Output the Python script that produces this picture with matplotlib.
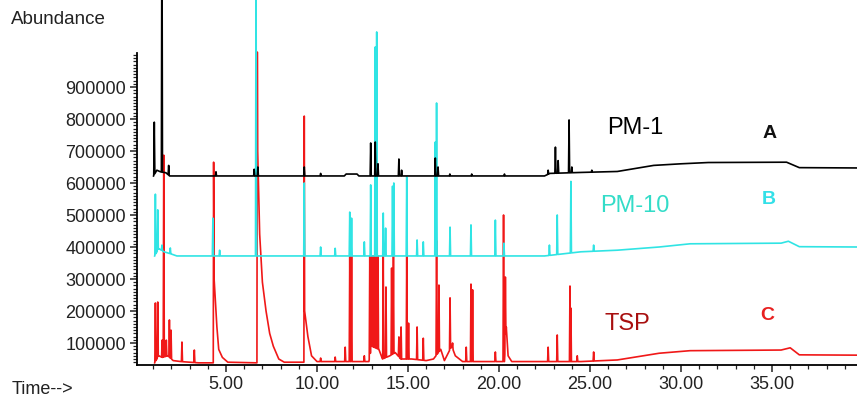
import numpy as np
import matplotlib
matplotlib.use("Agg")
import matplotlib.pyplot as plt
from matplotlib.ticker import MultipleLocator, FixedLocator, FormatStrFormatter

plt.rcParams['font.family'] = ['Liberation Sans', 'DejaVu Sans']

# retention times (min) and abundances
# PM-1 (black)
pm1_base_t = [1.02, 1.2, 1.4, 1.7, 1.9, 11.5, 11.6, 12.2, 12.3, 22.5, 22.8, 24.5, 26.5, 28.5, 30.0, 31.5, 35.8, 36.5, 39.7]
pm1_base_v = [622000, 640000, 635000, 632000, 622000, 622000, 628000, 628000, 622000, 622000, 630000, 633000, 636000, 655000, 660000, 664000, 665000, 648000, 647000]
pm1_peak_t = [1.06, 1.48, 1.85, 4.45, 6.55, 6.75, 9.3, 10.2, 12.95, 13.2, 13.35, 14.5, 14.65, 16.5, 16.65, 17.3, 18.5, 20.3, 22.7, 23.1, 23.25, 23.85, 24.0, 25.1]
pm1_peak_v = [790000, 1500000, 655000, 635000, 643000, 650000, 650000, 630000, 725000, 728000, 660000, 675000, 640000, 678000, 650000, 628000, 628000, 628000, 640000, 712000, 670000, 797000, 650000, 640000]

# PM-10 (cyan)
pm10_base_t = [1.08, 1.3, 1.6, 2.0, 2.3, 22.5, 24.5, 26.5, 28.8, 30.5, 35.5, 35.9, 36.5, 39.7]
pm10_base_v = [372000, 395000, 385000, 378000, 372000, 372000, 385000, 390000, 400000, 410000, 412000, 418000, 401000, 400000]
pm10_peak_t = [1.12, 1.25, 1.48, 1.94, 4.28, 4.65, 6.65, 9.3, 10.2, 11.0, 11.8, 11.9, 12.6, 12.95, 13.2, 13.28,
               13.64, 13.77, 14.15, 14.22, 14.93, 15.5, 15.84, 16.5, 16.57, 17.31, 18.46, 19.8, 20.27, 22.77, 23.2, 23.95, 25.2]
pm10_peak_v = [565000, 516000, 406000, 397000, 490000, 390000, 1300000, 600000, 400000, 396000, 509000, 490000, 416000, 594000, 1025000, 1072000,
               506000, 459000, 590000, 600000, 619000, 422000, 416000, 728000, 850000, 462000, 469000, 484000, 412000, 406000, 500000, 605000, 406000]

# TSP (red) - baseline incl. tails of the big tailing peaks
tsp_base_t = [1.08, 1.3, 1.5, 1.8, 2.1, 2.5, 3.0, 3.5, 4.3, 4.35, 4.5, 4.6, 4.8, 5.1, 6.7, 6.74, 6.85, 7.0, 7.2, 7.4, 7.6, 7.9, 8.2,
              9.28, 9.32, 9.5, 9.7, 10.0, 12.85, 13.0, 13.4, 13.6, 14.0, 14.3, 14.6, 15.2, 16.0, 16.4, 16.8, 17.0, 17.4, 17.6, 18.0,
              20.3, 20.4, 20.5, 20.7, 24.5, 26.5, 28.8, 30.5, 35.5, 36.0, 36.5, 39.7]
tsp_base_v = [38000, 60000, 55000, 60000, 45000, 42000, 40000, 38000, 38000, 297000, 150000, 80000, 55000, 40000, 38000, 700000, 440000, 290000, 200000, 130000, 90000, 50000, 40000,
              40000, 200000, 120000, 60000, 42000, 42000, 90000, 80000, 50000, 60000, 70000, 50000, 50000, 45000, 50000, 80000, 45000, 90000, 60000, 42000,
              42000, 150000, 60000, 42000, 42000, 47000, 68000, 76000, 78000, 85000, 63000, 62000]
tsp_peak_t = [1.12, 1.25, 1.49, 1.58, 1.72, 1.89, 1.98, 2.58, 3.26, 4.32, 6.72, 9.3, 10.2, 11.0, 11.55, 11.8, 11.9, 12.6,
              12.9, 12.97, 13.05, 13.12, 13.2, 13.27, 13.35, 13.64, 13.79, 14.1, 14.2, 14.5, 14.62, 14.93, 15.03, 15.5, 15.84, 16.57, 16.7,
              17.31, 17.45, 18.2, 18.46, 18.55, 19.8, 20.25, 20.35, 22.7, 23.2, 23.9, 23.95, 24.3, 25.2]
tsp_peak_v = [225000, 228000, 109000, 687000, 109000, 172000, 140000, 103000, 78000, 665000, 1009000, 809000, 53000, 56000, 87000, 372000, 372000, 60000,
              372000, 372000, 372000, 372000, 372000, 372000, 372000, 372000, 275000, 334000, 372000, 119000, 150000, 372000, 162000, 150000, 115000, 420000, 281000,
              241000, 100000, 87000, 284000, 266000, 72000, 500000, 306000, 87000, 125000, 278000, 209000, 60000, 72000]

y_ticks = [100000, 200000, 300000, 400000, 500000, 600000, 700000, 800000, 900000]


def build_trace(base_t, base_v, peak_t, peak_v, hw=0.03):
    # baseline points plus a narrow spike for every peak
    t = list(base_t)
    v = list(base_v)
    for pt, pv in zip(peak_t, peak_v):
        for dt in (-hw, hw):
            t.append(pt + dt)
            v.append(np.interp(pt + dt, base_t, base_v))
        t.append(pt)
        v.append(pv)
    order = np.argsort(t, kind='stable')
    return np.array(t)[order], np.array(v)[order]


W, H = 857, 400
fig = plt.figure(figsize=(W / 100, H / 100), dpi=100)
ax = fig.add_axes([137 / W, 35 / H, 720 / W, 365 / H])

for bt, bv, pt, pv, col, z in [
    (tsp_base_t, tsp_base_v, tsp_peak_t, tsp_peak_v, '#f01818', 1),
    (pm10_base_t, pm10_base_v, pm10_peak_t, pm10_peak_v, '#30e4e4', 2),
    (pm1_base_t, pm1_base_v, pm1_peak_t, pm1_peak_v, '#000000', 3),
]:
    x, y = build_trace(bt, bv, pt, pv)
    ax.plot(x, y, color=col, lw=1.2, zorder=z)

ax.set_xlim(0.11, 39.67)
ax.set_ylim(31250, 1171875)

for s in ['top', 'right']:
    ax.spines[s].set_visible(False)
ax.spines['left'].set_bounds(31250, 1005000)
ax.spines['left'].set_linewidth(1.3)
ax.spines['bottom'].set_linewidth(1.3)

ax.xaxis.set_major_locator(MultipleLocator(5))
ax.xaxis.set_minor_locator(MultipleLocator(1))
ax.xaxis.set_major_formatter(FormatStrFormatter('%.2f'))
ax.yaxis.set_major_locator(FixedLocator(y_ticks))
ax.yaxis.set_minor_locator(FixedLocator(np.arange(40000, 1000001, 10000)))

ax.tick_params(axis='both', which='major', length=5, width=1.1, labelsize=13, colors='#222222')
ax.tick_params(axis='both', which='minor', length=3, width=0.9, colors='#222222')
ax.tick_params(axis='x', which='major', pad=3)
ax.tick_params(axis='y', which='major', pad=3)

fig.text(11 / W, 1 - 20 / H, 'Abundance', ha='left', va='center', fontsize=13.5, color='#222222')
fig.text(12 / W, 1 - 389 / H, 'Time-->', ha='left', va='center', fontsize=13, color='#222222')

fig.text(635 / W, 1 - 128 / H, 'PM-1', ha='center', va='center', fontsize=17, color='black')
fig.text(770 / W, 1 - 134 / H, 'A', ha='center', va='center', fontsize=14, fontweight='bold', color='#111111')
fig.text(635 / W, 1 - 206 / H, 'PM-10', ha='center', va='center', fontsize=17, color='#33dcc8')
fig.text(769 / W, 1 - 200 / H, 'B', ha='center', va='center', fontsize=14, fontweight='bold', color='#33e0e8')
fig.text(627 / W, 1 - 324 / H, 'TSP', ha='center', va='center', fontsize=17, color='#a80f0f')
fig.text(767 / W, 1 - 315 / H, 'C', ha='center', va='center', fontsize=14, fontweight='bold', color='#e82020')

fig.savefig('out.png', dpi=100)
